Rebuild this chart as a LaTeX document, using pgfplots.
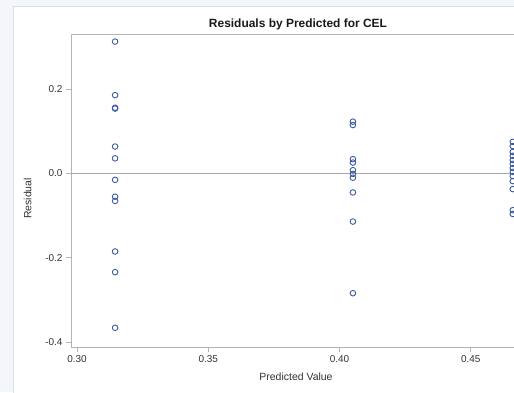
\documentclass[border=0pt]{standalone}
\usepackage{pgfplots}
\pgfplotsset{compat=1.18}
\usepackage{fontspec}
\setmainfont{Liberation Sans}
\definecolor{sasblue}{HTML}{3D5AA0}
\definecolor{framegray}{HTML}{B4B4B4}
\definecolor{zerogray}{HTML}{A8A8A8}
\definecolor{bgout}{HTML}{F3F6FA}
\definecolor{panelborder}{HTML}{DCDFE3}
\definecolor{txt}{HTML}{333333}
\begin{document}
\begin{tikzpicture}[x=1bp,y=1bp]
\clip (0,0) rectangle (514,392);
\fill[bgout] (0,0) rectangle (514,392);
\filldraw[fill=white, draw=panelborder, line width=1bp] (13.5,-10) rectangle (540,385.3);
\node[font=\fontsize{12}{14}\selectfont\bfseries, text=black!90] at (298,367.5) {Residuals by Predicted for CEL};
\begin{axis}[
  at={(71bp,45bp)}, anchor=south west,
  scale only axis, width=531bp, height=313bp,
  xmin=0.2977, xmax=0.50, ymin=-0.4116, ymax=0.331,
  xtick={0.30,0.35,0.40,0.45},
  ytick={-0.4,-0.2,0,0.2},
  tick align=outside, major tick length=5bp,
  tick style={framegray, line width=0.8bp},
  axis line style={framegray, line width=1bp},
  xtick pos=bottom, ytick pos=left,
  /pgf/number format/assume math mode=true,
  xticklabel style={/pgf/number format/.cd, fixed, fixed zerofill, precision=2},
  yticklabel style={/pgf/number format/.cd, fixed, fixed zerofill, precision=1},
  ticklabel style={font=\fontsize{10}{12}\selectfont, text=txt},
  label style={font=\fontsize{10.5}{12}\selectfont, text=txt},
  xlabel={Predicted Value},
  xlabel style={at={(rel axis cs:0.4237,0)}, anchor=north, yshift=-22bp},
  ylabel={Residual},
  ylabel style={at={(rel axis cs:0,0.5)}, anchor=south, yshift=36bp, xshift=-8bp},
]
\addplot[zerogray, line width=0.8bp, forget plot] coordinates {(0.2977,0) (0.5,0)};
\addplot[only marks, mark=o, mark size=2.8bp, sasblue, line width=0.9bp] coordinates {
(0.3145,0.313) (0.3145,0.186) (0.3145,0.156) (0.3145,0.154) (0.3145,0.064)
(0.3145,0.036) (0.3145,-0.015) (0.3145,-0.055) (0.3145,-0.065) (0.3145,-0.185)
(0.3145,-0.234) (0.3145,-0.366)
(0.4051,0.123) (0.4051,0.115) (0.4051,0.034) (0.4051,0.026) (0.4051,0.008)
(0.4051,-0.001) (0.4051,-0.010) (0.4051,-0.045) (0.4051,-0.114) (0.4051,-0.284)
(0.4660,0.075) (0.4660,0.065) (0.4660,0.051) (0.4660,0.042) (0.4660,0.032)
(0.4660,0.023) (0.4660,0.013) (0.4660,0.004) (0.4660,-0.006) (0.4660,-0.018)
(0.4660,-0.037) (0.4660,-0.087) (0.4660,-0.096)
};
\end{axis}
\end{tikzpicture}
\end{document}
